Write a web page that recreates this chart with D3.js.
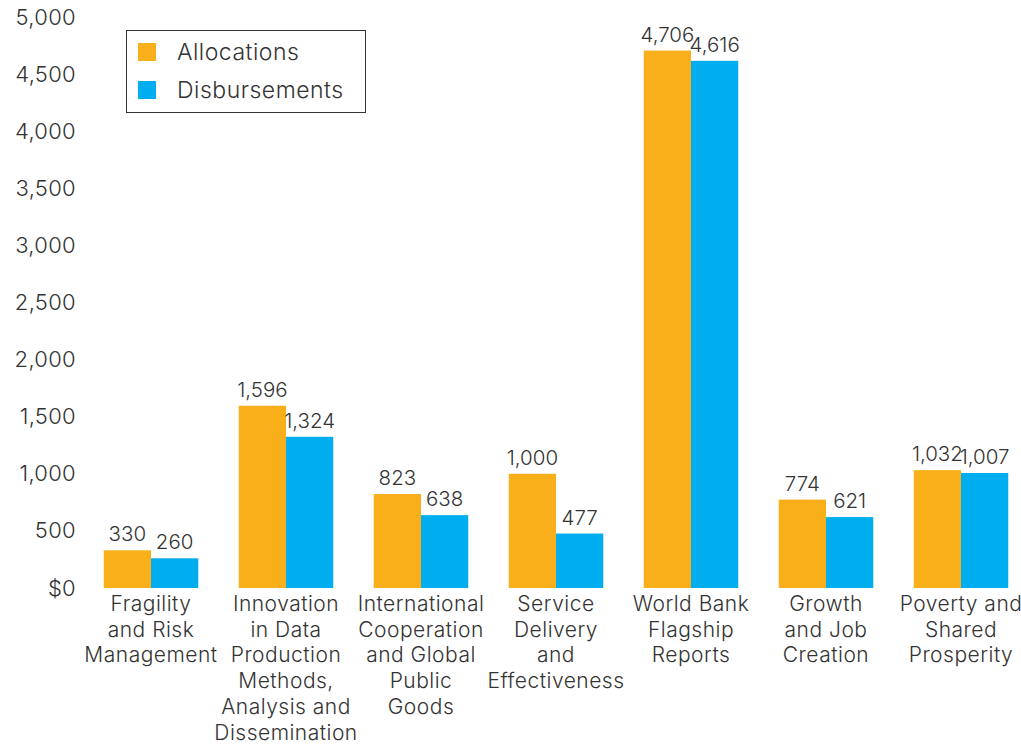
<!DOCTYPE html>
<html>
<head>
<meta charset="utf-8">
<script src="https://cdn.jsdelivr.net/npm/d3@7"></script>
<style>
  body { margin: 0; background: #fff; }
  text { font-family: Inter, "Open Sans", sans-serif; fill: #333; font-weight: 300; }
</style>
</head>
<body>
<div id="chart"></div>
<script>
// chart data
var categories = ["Fragility and Risk Management", "Innovation in Data Production Methods, Analysis and Dissemination",
    "International Cooperation and Global Public Goods", "Service Delivery and Effectiveness",
    "World Bank Flagship Reports", "Growth and Job Creation", "Poverty and Shared Prosperity"];
var categoryLines = [
    ["Fragility", "and Risk", "Management"],
    ["Innovation", "in Data", "Production", "Methods,", "Analysis and", "Dissemination"],
    ["International", "Cooperation", "and Global", "Public", "Goods"],
    ["Service", "Delivery", "and", "Effectiveness"],
    ["World Bank", "Flagship", "Reports"],
    ["Growth", "and Job", "Creation"],
    ["Poverty and", "Shared", "Prosperity"]
];
var allocations = [330, 1596, 823, 1000, 4706, 774, 1032];
var disbursements = [260, 1324, 638, 477, 4616, 621, 1007];
var seriesNames = ["Allocations", "Disbursements"];
var seriesColors = ["#F9AF1A", "#00AEEF"];
var yTicks = [0, 500, 1000, 1500, 2000, 2500, 3000, 3500, 4000, 4500, 5000];

var width = 1021, height = 746;

var svg = d3.select("#chart").append("svg")
    .attr("width", width)
    .attr("height", height);

// scales
var x = d3.scaleBand()
    .domain(categories)
    .range([83.5, 1028.5])
    .paddingInner(0.3)
    .paddingOuter(0.15);

var x1 = d3.scaleBand()
    .domain(seriesNames)
    .range([0, x.bandwidth()]);

var y = d3.scaleLinear()
    .domain([0, 5000])
    .range([588, 17]);

// y axis, labels only
var yAxis = d3.axisLeft(y)
    .tickValues(yTicks)
    .tickSize(0)
    .tickPadding(0)
    .tickFormat(function(d) { return d === 0 ? "$0" : d3.format(",")(d); });

var yAxisGroup = svg.append("g")
    .attr("transform", "translate(76,0)")
    .call(yAxis);
yAxisGroup.select(".domain").remove();
yAxisGroup.selectAll("text")
    .attr("font-size", 22)
    .style("font-family", "Inter, 'Open Sans', sans-serif")
    .style("letter-spacing", "0.3px")
    .attr("fill", "#333");

// bars
var rows = categories.map(function(c, i) {
    return { cat: c, values: [allocations[i], disbursements[i]] };
});

var groups = svg.selectAll(".group")
    .data(rows)
    .enter().append("g")
    .attr("class", "group")
    .attr("transform", function(d) { return "translate(" + x(d.cat) + ",0)"; });

groups.selectAll("rect")
    .data(function(d) { return d.values.map(function(v, j) { return { name: seriesNames[j], value: v, color: seriesColors[j] }; }); })
    .enter().append("rect")
    .attr("x", function(d) { return x1(d.name); })
    .attr("width", x1.bandwidth())
    .attr("y", function(d) { return y(d.value); })
    .attr("height", function(d) { return y(0) - y(d.value); })
    .attr("fill", function(d) { return d.color; });

groups.selectAll(".value-label")
    .data(function(d) { return d.values.map(function(v, j) { return { name: seriesNames[j], value: v }; }); })
    .enter().append("text")
    .attr("class", "value-label")
    .attr("x", function(d) { return x1(d.name) + x1.bandwidth() / 2; })
    .attr("y", function(d) { return y(d.value) - 9; })
    .attr("text-anchor", "middle")
    .attr("font-size", 20.5)
    .text(function(d) { return d3.format(",")(d.value); });

// category labels
groups.append("text")
    .attr("class", "cat-label")
    .attr("text-anchor", "middle")
    .attr("font-size", 21)
    .style("letter-spacing", "0.5px")
    .selectAll("tspan")
    .data(function(d, i) { return categoryLines[i]; })
    .enter().append("tspan")
    .attr("x", x.bandwidth() / 2)
    .attr("y", function(d, k) { return 611 + k * 25.7; })
    .text(function(d) { return d; });

// legend
var legend = svg.append("g").attr("class", "legend");
legend.append("rect")
    .attr("x", 126.5).attr("y", 30.5)
    .attr("width", 239).attr("height", 82)
    .attr("fill", "none")
    .attr("stroke", "#333")
    .attr("stroke-width", 1);

var legendItems = legend.selectAll(".legend-item")
    .data(seriesNames)
    .enter().append("g")
    .attr("class", "legend-item")
    .attr("transform", function(d, i) { return "translate(138," + (52 + i * 38) + ")"; });

legendItems.append("rect")
    .attr("x", 0).attr("y", -9)
    .attr("width", 18).attr("height", 18)
    .attr("fill", function(d, i) { return seriesColors[i]; });

legendItems.append("text")
    .attr("x", 39)
    .attr("y", 0)
    .attr("dy", "0.35em")
    .attr("font-size", 23)
    .style("letter-spacing", "0.5px")
    .text(function(d) { return d; });
</script>
</body>
</html>
